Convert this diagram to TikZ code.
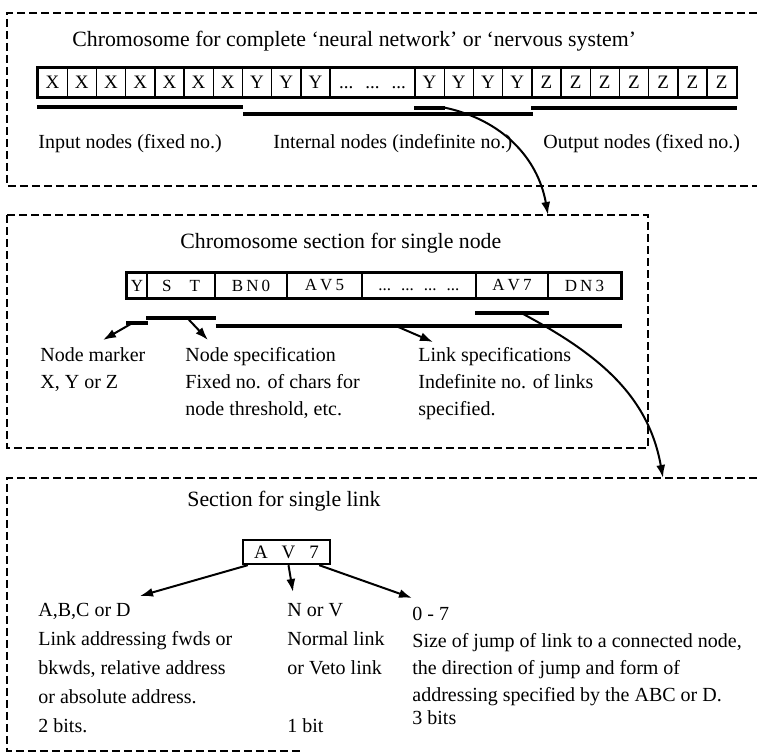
\documentclass[tikz,border=0pt]{standalone}
\usepackage{fontspec}
\setmainfont{Liberation Serif}
\usetikzlibrary{arrows.meta}

\begin{document}
\begin{tikzpicture}[x=0.5pt,y=-0.5pt,
  boxline/.style={line width=1pt,dash pattern=on 4pt off 2pt},
  cell/.style={draw,line width=0.7pt,inner sep=0pt,minimum height=14.5pt,minimum width=14.6pt,font=\fontsize{9.5}{10}\selectfont},
  ncell/.style={draw,line width=0.7pt,inner sep=0pt,minimum height=12.5pt,font=\fontsize{8.5}{9}\selectfont},
  frame/.style={line width=1.2pt},
  bar/.style={line width=2pt},
  arr/.style={line width=1pt,-{Latex[length=6.5pt,width=4.5pt]}},
  lbl/.style={anchor=north west,inner sep=0pt,align=left,font=\fontsize{10}{13}\selectfont},
  ttl/.style={lbl,font=\fontsize{10.9}{13}\selectfont}]
\useasboundingbox (0,0) rectangle (757,753);
% dashed frames
\draw[boxline] (757,13) -- (7,13) -- (7,186) -- (757,186);
\draw[boxline] (7,215) rectangle (648,448);
\draw[boxline] (757,478) -- (7,478) -- (7,751) -- (303,751);

% whole network
\node[ttl] (title1) at (72,31) {Chromosome for complete `neural network' or `nervous system'};
\node[cell] (x1) at (52.6,82.5) {X};
\node[cell] (x2) at (81.8,82.5) {X};
\node[cell] (x3) at (111,82.5) {X};
\node[cell] (x4) at (140.2,82.5) {X};
\node[cell] (x5) at (169.4,82.5) {X};
\node[cell] (x6) at (198.6,82.5) {X};
\node[cell] (x7) at (227.8,82.5) {X};
\node[cell] (y1) at (257,82.5) {Y};
\node[cell] (y2) at (286.2,82.5) {Y};
\node[cell] (y3) at (315.4,82.5) {Y};
\node[cell,minimum width=42.5pt] (ydots) at (372.5,82.5) {\vphantom{Y}...\hspace{6pt}...\hspace{6pt}...};
\node[cell] (y4) at (429.6,82.5) {Y};
\node[cell] (y5) at (458.8,82.5) {Y};
\node[cell] (y6) at (488,82.5) {Y};
\node[cell] (y7) at (517.2,82.5) {Y};
\node[cell] (z1) at (546.4,82.5) {Z};
\node[cell] (z2) at (575.6,82.5) {Z};
\node[cell] (z3) at (604.8,82.5) {Z};
\node[cell] (z4) at (634,82.5) {Z};
\node[cell] (z5) at (663.2,82.5) {Z};
\node[cell] (z6) at (692.4,82.5) {Z};
\node[cell] (z7) at (721.6,82.5) {Z};
\draw[frame] (x1.north west) rectangle (z7.south east);
\draw[bar] ([yshift=-4.5pt]x1.south west) -- ([yshift=-4.5pt]x7.south east);
\draw[bar] ([yshift=-8pt]x7.south east) -- ([yshift=-8pt]y7.south east);
\draw[bar] ([yshift=-5pt]y4.south west) -- ([yshift=-5pt]y4.south east);
\draw[bar] ([yshift=-5pt]z1.south west) -- ([yshift=-5pt]z7.south east);
\node[lbl] (inlbl) at (38,134) {Input nodes (fixed no.)};
\node[lbl] (intlbl) at (273,134) {Internal nodes (indefinite no.)};
\node[lbl] (outlbl) at (543,134) {Output nodes (fixed no.)};
\coordinate (nodein) at (548,215);
\draw[arr] ([yshift=-5pt]y4.south east) to[out=-12,in=100] (nodein);

% single node
\node[ttl] (title2) at (180,233) {Chromosome section for single node};
\node[ncell,minimum width=10pt] (ny) at (137,285.5) {Y};
\node[ncell,minimum width=34pt] (nst) at (181,285.5) {S\hspace{9pt}T};
\node[ncell,minimum width=36pt] (nbn) at (251,285.5) {B\hspace{1.5pt}N\hspace{1.5pt}0};
\node[ncell,minimum width=37.5pt] (nav5) at (324.5,285.5) {A\hspace{1.5pt}V\hspace{1.5pt}5};
\node[ncell,minimum width=57pt] (ndots) at (419,285.5) {\vphantom{Y}...\hspace{5pt}...\hspace{5pt}...\hspace{5pt}...};
\node[ncell,minimum width=36pt] (nav7) at (512,285.5) {A\hspace{1.5pt}V\hspace{1.5pt}7};
\node[ncell,minimum width=36.5pt] (ndn) at (584.5,285.5) {D\hspace{1.5pt}N\hspace{1.5pt}3};
\draw[frame] (ny.north west) rectangle (ndn.south east);
\draw[bar] ([yshift=-12pt]ny.south west) -- ([yshift=-12pt]ny.south east);
\draw[bar] ([yshift=-9.5pt]nst.south west) -- ([yshift=-9.5pt]nst.south east);
\draw[bar] ([yshift=-13.5pt]nst.south east) -- ([yshift=-13.5pt]ndn.south east);
\draw[bar] ([yshift=-7pt]nav7.south west) -- ([yshift=-7pt]nav7.south east);
\coordinate (mk) at (103,340);
\coordinate (sp) at (208,340);
\coordinate (ls) at (433,342);
\draw[arr] ([xshift=-2pt,yshift=-12pt]ny.south) -- (mk);
\draw[arr] ([xshift=3pt,yshift=-9.5pt]nst.south) -- (sp);
\draw[arr] ([xshift=17pt,yshift=-13.5pt]ndots.south west) -- (ls);
\node[lbl,font=\fontsize{10}{13.5}\selectfont] (mklbl) at (40,347) {Node marker\\X, Y or Z};
\node[lbl,font=\fontsize{10}{13.5}\selectfont] (splbl) at (185,347) {Node specification\\Fixed no. of chars for\\node threshold, etc.};
\node[lbl,font=\fontsize{10}{13.5}\selectfont] (lslbl) at (418,347) {Link specifications\\Indefinite no. of links\\specified.};
\coordinate (linkin) at (663,478);
\draw[arr] ([xshift=-14pt,yshift=-7pt]nav7.south east) to[out=-28,in=100] (linkin);

% single link
\node[ttl] (title3) at (187,491) {Section for single link};
\node[draw,line width=1.2pt,inner sep=0pt,minimum width=43.5pt,minimum height=12pt,font=\fontsize{9.5}{10}\selectfont] (lk) at (286.5,552) {A\hspace{7pt}V\hspace{7pt}7};
\coordinate (ab) at (140,596);
\coordinate (nv) at (293,592);
\coordinate (jp) at (412,598);
\draw[arr] ([xshift=3pt]lk.south west) -- (ab);
\draw[arr] ([xshift=1pt]lk.south) -- (nv);
\draw[arr] ([xshift=-6pt]lk.south east) -- (jp);
\node[lbl,font=\fontsize{10}{14.5}\selectfont] (ablbl) at (38,603) {A,B,C or D\\Link addressing fwds or\\bkwds, relative address\\or absolute address.\\2 bits.};
\node[lbl,font=\fontsize{10}{14.5}\selectfont] (nvlbl) at (287,603) {N or V\\Normal link\\or Veto link\\[14.5pt]1 bit};
\node[lbl,font=\fontsize{10}{13.5}\selectfont] (jplbl) at (412,607) {0 - 7\\Size of jump of link to a connected node,\\the direction of jump and form of\\addressing specified by the ABC or D.\\[-2pt]3 bits};
\end{tikzpicture}
\end{document}
